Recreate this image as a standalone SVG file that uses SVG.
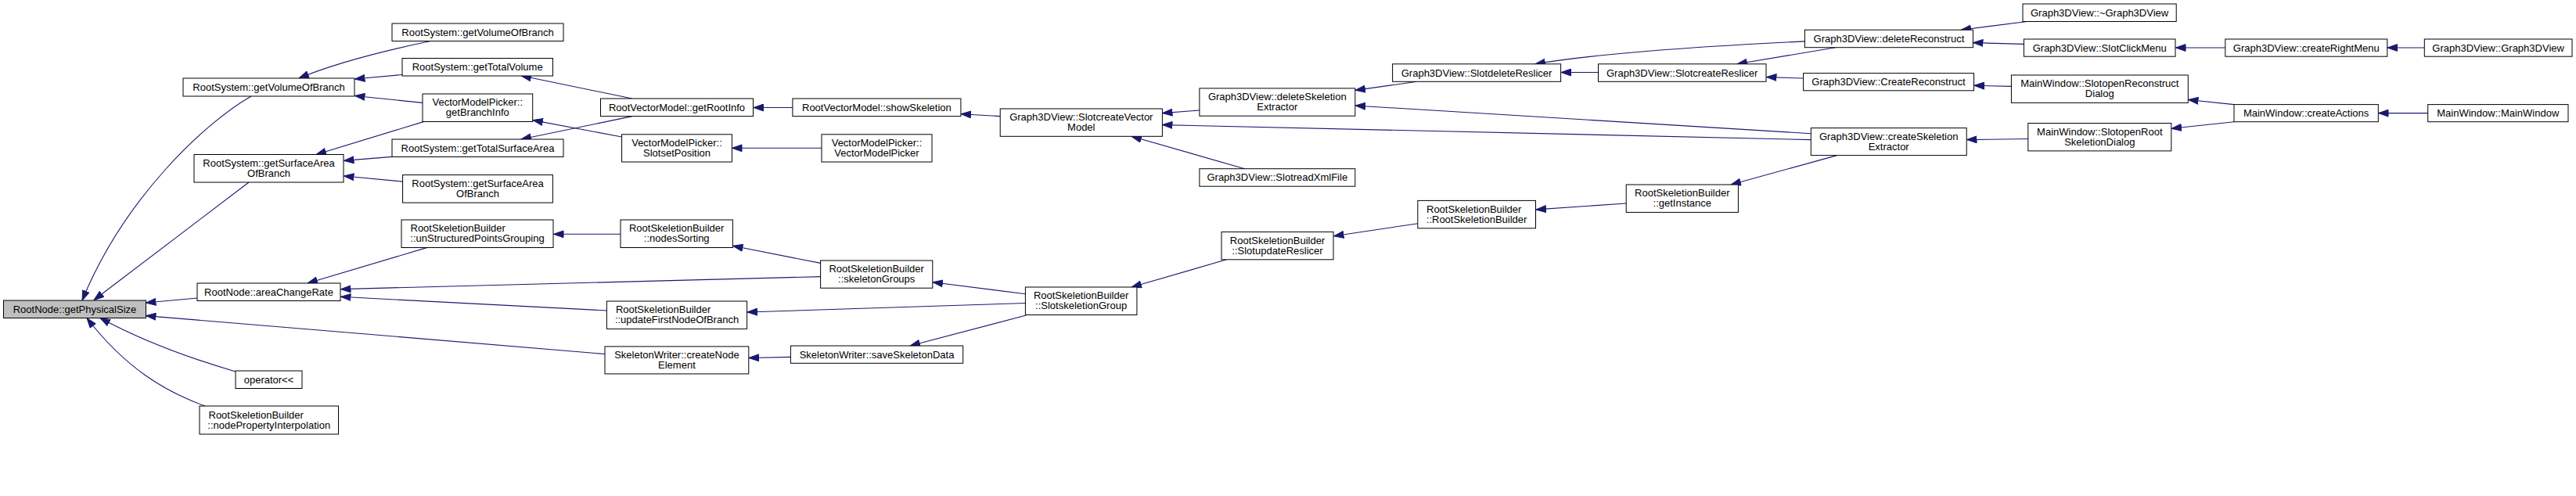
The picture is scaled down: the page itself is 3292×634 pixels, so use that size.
<svg xmlns="http://www.w3.org/2000/svg" width="3292" height="634" viewBox="0 0 3292 634">
<style>
.n rect{fill:#ffffff;stroke:#000000;stroke-width:1}
.n.root rect{fill:#bfbfbf}
.n text{font-family:"Liberation Sans",Arial,sans-serif;font-size:13px;fill:#000000}
.c{text-anchor:middle}
.e path{fill:none;stroke:#191970;stroke-width:1.1}
</style>
<defs>
<marker id="ah" markerUnits="userSpaceOnUse" markerWidth="14" markerHeight="10" viewBox="0 0 14 10" refX="13" refY="5" orient="auto"><path d="M0.5,0.6 L13,5 L0.5,9.4 Z" fill="#191970" stroke="#191970" stroke-width="1"/></marker>
</defs>
<rect x="0" y="0" width="3292" height="634" fill="#ffffff"/>
<g id="connectors" class="e">
<path d="M321,123 C265,155 160,250 105,384" marker-end="url(#ah)"/>
<path d="M318,233 L120,383.5" marker-end="url(#ah)"/>
<path d="M252,381 L186.5,387" marker-end="url(#ah)"/>
<path d="M773,452.5 L186.5,403.6" marker-end="url(#ah)"/>
<path d="M301,475 C260,463 190,440 128,406.5" marker-end="url(#ah)"/>
<path d="M262,519 C210,500 160,470 111,406.5" marker-end="url(#ah)"/>
<path d="M550,52.5 C500,63 430,80 382,100" marker-end="url(#ah)"/>
<path d="M514,95.5 L453.5,101" marker-end="url(#ah)"/>
<path d="M540,131.4 L453.5,122.5" marker-end="url(#ah)"/>
<path d="M542,155.4 L404,197.5" marker-end="url(#ah)"/>
<path d="M501,200.4 L439.5,205.4" marker-end="url(#ah)"/>
<path d="M514.6,232.1 L439.5,225" marker-end="url(#ah)"/>
<path d="M546,316.4 L393,362" marker-end="url(#ah)"/>
<path d="M1048.6,353.6 L435.5,369.6" marker-end="url(#ah)"/>
<path d="M775.4,397 L435.5,379.3" marker-end="url(#ah)"/>
<path d="M793,299.3 L707.5,299.3" marker-end="url(#ah)"/>
<path d="M1048.6,336.4 L936.5,314.3" marker-end="url(#ah)"/>
<path d="M1310.4,387.5 L955,399" marker-end="url(#ah)"/>
<path d="M1310.4,375.7 L1192,360.7" marker-end="url(#ah)"/>
<path d="M1311.4,403 L1163,442" marker-end="url(#ah)"/>
<path d="M1010.4,456.4 L957,457.5" marker-end="url(#ah)"/>
<path d="M807.9,126 L666,96.8" marker-end="url(#ah)"/>
<path d="M807.9,148.6 L666,178" marker-end="url(#ah)"/>
<path d="M794.6,175 L681,153.6" marker-end="url(#ah)"/>
<path d="M1012.9,137.5 L963,137.5" marker-end="url(#ah)"/>
<path d="M1050,189.3 L935.5,189.3" marker-end="url(#ah)"/>
<path d="M1278.2,148.6 L1228,145.7" marker-end="url(#ah)"/>
<path d="M1532.9,141 L1485.5,144.6" marker-end="url(#ah)"/>
<path d="M2314.3,178.6 L1485.5,159.6" marker-end="url(#ah)"/>
<path d="M1590.7,215.7 L1446,174.3" marker-end="url(#ah)"/>
<path d="M1811,104.3 L1732,115.4" marker-end="url(#ah)"/>
<path d="M2314.3,170.7 L1732,135" marker-end="url(#ah)"/>
<path d="M2042.5,92.5 L1995,92.5" marker-end="url(#ah)"/>
<path d="M2306.4,52.9 C2200,58 2050,67 1962,81.8" marker-end="url(#ah)"/>
<path d="M2345.7,60.7 L2220,81.8" marker-end="url(#ah)"/>
<path d="M2304.6,100 L2257.5,98.6" marker-end="url(#ah)"/>
<path d="M1811.8,285.7 L1704.5,301.8" marker-end="url(#ah)"/>
<path d="M1567.5,331.8 L1446,367" marker-end="url(#ah)"/>
<path d="M2078.2,260 L1963,267.9" marker-end="url(#ah)"/>
<path d="M2347.5,198.6 L2212,236" marker-end="url(#ah)"/>
<path d="M2590.4,27.5 L2506,38.2" marker-end="url(#ah)"/>
<path d="M2586.4,56.4 L2521.5,54.6" marker-end="url(#ah)"/>
<path d="M2570.4,110.4 L2523,109.3" marker-end="url(#ah)"/>
<path d="M2591.8,177.5 L2513.5,178.6" marker-end="url(#ah)"/>
<path d="M2843.8,61 L2780.5,61" marker-end="url(#ah)"/>
<path d="M3098.3,61 L3051,61" marker-end="url(#ah)"/>
<path d="M2855,133.6 L2796.5,127.5" marker-end="url(#ah)"/>
<path d="M2855,155.7 L2775,164.3" marker-end="url(#ah)"/>
<path d="M3102.7,144.6 L3039.5,144.6" marker-end="url(#ah)"/>
</g>
<g id="n0" class="n root"><rect x="4.5" y="384" width="182" height="22.5"/><text class="c" x="95.5" y="399.7">RootNode::getPhysicalSize</text></g>
<g id="n1" class="n"><rect x="234" y="100" width="219" height="23"/><text class="c" x="343.5" y="116">RootSystem::getVolumeOfBranch</text></g>
<g id="n2" class="n"><rect x="248" y="197.5" width="191" height="35.5"/><text class="c" x="343.5" y="212.7">RootSystem::getSurfaceArea</text><text class="c" x="343.5" y="225.9">OfBranch</text></g>
<g id="n3" class="n"><rect x="252" y="362" width="183" height="22.5"/><text class="c" x="343.5" y="377.7">RootNode::areaChangeRate</text></g>
<g id="n4" class="n"><rect x="301" y="474" width="85" height="22.5"/><text class="c" x="343.5" y="489.7">operator&lt;&lt;</text></g>
<g id="n5" class="n"><rect x="255" y="519" width="177.5" height="36"/><text x="266.5" y="534.5">RootSkeletionBuilder</text><text class="c" x="343.7" y="547.7">::nodePropertyInterpolation</text></g>
<g id="n6" class="n"><rect x="501" y="30" width="219" height="22.5"/><text class="c" x="610.5" y="45.7">RootSystem::getVolumeOfBranch</text></g>
<g id="n7" class="n"><rect x="514" y="74.5" width="192.5" height="22.5"/><text class="c" x="610.2" y="90.2">RootSystem::getTotalVolume</text></g>
<g id="n8" class="n"><rect x="540" y="120" width="140.7" height="35.5"/><text class="c" x="610.3" y="135.2">VectorModelPicker::</text><text class="c" x="610.3" y="148.4">getBranchInfo</text></g>
<g id="n9" class="n"><rect x="501" y="178" width="219" height="22.5"/><text class="c" x="610.5" y="193.7">RootSystem::getTotalSurfaceArea</text></g>
<g id="n10" class="n"><rect x="514.6" y="223.6" width="191.8" height="35.5"/><text class="c" x="610.5" y="238.8">RootSystem::getSurfaceArea</text><text class="c" x="610.5" y="252">OfBranch</text></g>
<g id="n11" class="n"><rect x="513" y="281" width="194" height="35.5"/><text x="524.5" y="296.2">RootSkeletionBuilder</text><text class="c" x="610" y="309.4">::unStructuredPointsGrouping</text></g>
<g id="n12" class="n"><rect x="767.5" y="126" width="195" height="22.6"/><text class="c" x="865" y="141.8">RootVectorModel::getRootInfo</text></g>
<g id="n13" class="n"><rect x="794.6" y="171.8" width="140.8" height="35.2"/><text class="c" x="865" y="186.9">VectorModelPicker::</text><text class="c" x="865" y="200.1">SlotsetPosition</text></g>
<g id="n14" class="n"><rect x="793" y="281" width="143.4" height="35.5"/><text class="c" x="864.7" y="296.2">RootSkeletionBuilder</text><text class="c" x="864.7" y="309.4">::nodesSorting</text></g>
<g id="n15" class="n"><rect x="775.4" y="385" width="179.2" height="35.4"/><text x="786.9" y="400.2">RootSkeletionBuilder</text><text class="c" x="865" y="413.4">::updateFirstNodeOfBranch</text></g>
<g id="n16" class="n"><rect x="773" y="442.9" width="183.8" height="35"/><text class="c" x="864.9" y="457.9">SkeletonWriter::createNode</text><text class="c" x="864.9" y="471.1">Element</text></g>
<g id="n17" class="n"><rect x="1012.9" y="126" width="215" height="22.6"/><text class="c" x="1120.4" y="141.8">RootVectorModel::showSkeletion</text></g>
<g id="n18" class="n"><rect x="1050" y="171.8" width="141" height="35.2"/><text class="c" x="1120.5" y="186.9">VectorModelPicker::</text><text class="c" x="1120.5" y="200.1">VectorModelPicker</text></g>
<g id="n19" class="n"><rect x="1048.6" y="333" width="143.2" height="35.2"/><text class="c" x="1120.2" y="348.1">RootSkeletionBuilder</text><text class="c" x="1120.2" y="361.3">::skeletonGroups</text></g>
<g id="n20" class="n"><rect x="1010.4" y="442" width="220.3" height="22.3"/><text class="c" x="1120.5" y="457.6">SkeletonWriter::saveSkeletonData</text></g>
<g id="n21" class="n"><rect x="1278.2" y="139" width="207.2" height="35.3"/><text class="c" x="1381.8" y="154.1">Graph3DView::SlotcreateVector</text><text class="c" x="1381.8" y="167.3">Model</text></g>
<g id="n22" class="n"><rect x="1310.4" y="367" width="142.5" height="35.5"/><text class="c" x="1381.6" y="382.2">RootSkeletionBuilder</text><text class="c" x="1381.6" y="395.4">::SlotskeletionGroup</text></g>
<g id="n23" class="n"><rect x="1532.9" y="112.9" width="198.9" height="35.3"/><text class="c" x="1632.3" y="128">Graph3DView::deleteSkeletion</text><text class="c" x="1632.3" y="141.2">Extractor</text></g>
<g id="n24" class="n"><rect x="1532.9" y="215.7" width="198.9" height="22.5"/><text class="c" x="1632.3" y="231.4">Graph3DView::SlotreadXmlFile</text></g>
<g id="n25" class="n"><rect x="1561" y="296.4" width="143" height="35.4"/><text class="c" x="1632.5" y="311.6">RootSkeletionBuilder</text><text class="c" x="1632.5" y="324.8">::SlotupdateReslicer</text></g>
<g id="n26" class="n"><rect x="1779.6" y="81.8" width="215" height="22.5"/><text class="c" x="1887.1" y="97.5">Graph3DView::SlotdeleteReslicer</text></g>
<g id="n27" class="n"><rect x="1811.8" y="256.4" width="150.7" height="35.4"/><text x="1823" y="271.6">RootSkeletionBuilder</text><text class="c" x="1887.1" y="284.8">::RootSkeletionBuilder</text></g>
<g id="n28" class="n"><rect x="2042.5" y="81.8" width="214.5" height="22.5"/><text class="c" x="2149.7" y="97.5">Graph3DView::SlotcreateReslicer</text></g>
<g id="n29" class="n"><rect x="2078.2" y="236" width="143.2" height="35.4"/><text class="c" x="2149.8" y="251.2">RootSkeletionBuilder</text><text class="c" x="2149.8" y="264.4">::getInstance</text></g>
<g id="n30" class="n"><rect x="2306.4" y="38.2" width="215" height="22.5"/><text class="c" x="2413.9" y="53.9">Graph3DView::deleteReconstruct</text></g>
<g id="n31" class="n"><rect x="2304.6" y="93.6" width="217.9" height="22.2"/><text class="c" x="2413.5" y="109.2">Graph3DView::CreateReconstruct</text></g>
<g id="n32" class="n"><rect x="2314.3" y="163.6" width="198.9" height="35"/><text class="c" x="2413.7" y="178.6">Graph3DView::createSkeletion</text><text class="c" x="2413.7" y="191.8">Extractor</text></g>
<g id="n33" class="n"><rect x="2585" y="5" width="196.2" height="22.5"/><text class="c" x="2683.1" y="20.7">Graph3DView::~Graph3DView</text></g>
<g id="n34" class="n"><rect x="2586.4" y="50" width="193.6" height="22.2"/><text class="c" x="2683.2" y="65.6">Graph3DView::SlotClickMenu</text></g>
<g id="n35" class="n"><rect x="2570.4" y="96" width="225.9" height="35.4"/><text class="c" x="2683.3" y="111.2">MainWindow::SlotopenReconstruct</text><text class="c" x="2683.3" y="124.4">Dialog</text></g>
<g id="n36" class="n"><rect x="2591.8" y="157.5" width="183" height="35.4"/><text class="c" x="2683.3" y="172.7">MainWindow::SlotopenRoot</text><text class="c" x="2683.3" y="185.9">SkeletionDialog</text></g>
<g id="n37" class="n"><rect x="2843.8" y="50" width="207" height="22.2"/><text class="c" x="2947.3" y="65.6">Graph3DView::createRightMenu</text></g>
<g id="n38" class="n"><rect x="2855" y="133.6" width="184.3" height="22.1"/><text class="c" x="2947.1" y="149.1">MainWindow::createActions</text></g>
<g id="n39" class="n"><rect x="3098.3" y="50" width="188.7" height="22.2"/><text class="c" x="3192.6" y="65.6">Graph3DView::Graph3DView</text></g>
<g id="n40" class="n"><rect x="3102.7" y="133.6" width="179.3" height="22.1"/><text class="c" x="3192.3" y="149.1">MainWindow::MainWindow</text></g>
</svg>
